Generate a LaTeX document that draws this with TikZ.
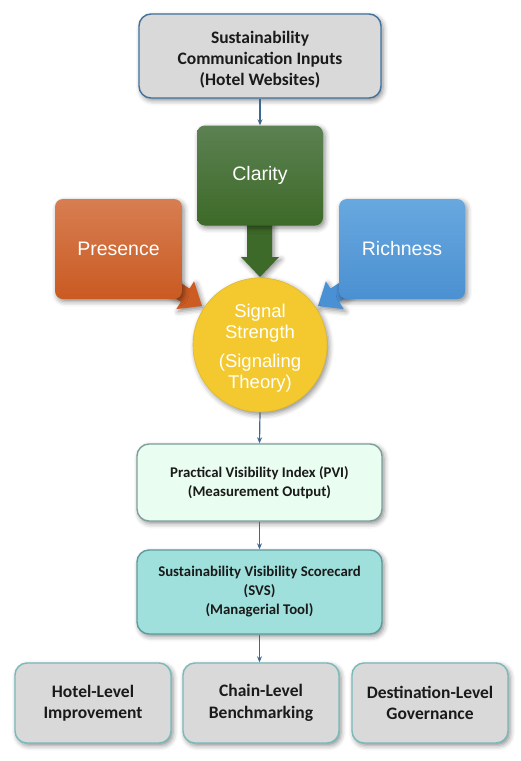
\documentclass[tikz,border=0pt]{standalone}
\usepackage{fontspec}
\setmainfont{Carlito}
\newfontfamily\helv{Liberation Sans}
\usetikzlibrary{shadows.blur,arrows.meta,calc}
\definecolor{bordblue}{HTML}{41719C}
\definecolor{conncol}{HTML}{3F6890}
\definecolor{grayfill}{HTML}{D9D9D9}
\definecolor{mintfill}{HTML}{E9FDF0}
\definecolor{mintbord}{HTML}{7F9F9C}
\definecolor{tealfill}{HTML}{9FE0DC}
\definecolor{tealbord}{HTML}{5E9C9C}
\definecolor{botbord}{HTML}{79B9B9}
\definecolor{greentop}{HTML}{5C8152}
\definecolor{greenbot}{HTML}{3D6A28}
\definecolor{greenarr}{HTML}{3E6A29}
\definecolor{orangetop}{HTML}{D77E51}
\definecolor{orangebot}{HTML}{CA5A22}
\definecolor{orangearr}{HTML}{CD5C24}
\definecolor{bluetop}{HTML}{67A8DF}
\definecolor{bluebot}{HTML}{4B90D1}
\definecolor{bluearr}{HTML}{4A90D5}
\definecolor{yellowfill}{HTML}{F3C92F}
\definecolor{txt}{HTML}{1A1A1A}
\begin{document}
\begin{tikzpicture}[x=1pt,y=-1pt,
  shad/.style={blur shadow={shadow xshift=2pt,shadow yshift=-2.5pt,shadow blur radius=5pt,shadow opacity=45}},
  box/.style={rectangle,rounded corners=12pt,line width=1.4pt,align=center,inner sep=0pt,
    text=txt,font=\bfseries\fontsize{17.5}{21}\selectfont,shad},
  smallbox/.style={box,font=\bfseries\fontsize{14.8}{19}\selectfont},
  botbox/.style={box,fill=grayfill,draw=botbord,minimum width=156pt,minimum height=80pt,
    font=\bfseries\fontsize{17.5}{21.5}\selectfont},
  colbox/.style={rectangle,rounded corners=8pt,draw=none,align=center,inner sep=0pt,
    text=white,font=\helv\fontsize{19.5}{23}\selectfont,shad,
    minimum width=126pt,minimum height=100pt},
  conn/.style={draw=conncol,line width=1.2pt,-{Stealth[length=6pt,width=5pt]}}]
\useasboundingbox (0,0) rectangle (520,761);

% block arrows (drawn first, boxes cover their bases)
\coordinate (ptip) at (202,306);
\coordinate (rtip) at (318,306);
\fill[orangearr,shad] (147.3,280.3) -- (180.9,301.9) -- (176.3,309.1) -- (ptip)
  -- (194.1,281.3) -- (189.5,288.5) -- (155.9,266.9) -- cycle;
\fill[bluearr,shad] (372.7,280.3) -- (339.1,301.9) -- (343.7,309.1) -- (rtip)
  -- (325.9,281.3) -- (330.5,288.5) -- (364.1,266.9) -- cycle;
\fill[greenarr,shad] (247,220) -- (272,220) -- (272,257) -- (279,257) -- (260,277)
  -- (241,257) -- (247,257) -- cycle;

% nodes
\node[box,fill=grayfill,draw=bordblue,minimum width=242pt,minimum height=84pt] (top) at (260,56)
  {\rule{0pt}{19pt}Sustainability\\Communication Inputs\\(Hotel Websites)};
\node[colbox,top color=greentop,bottom color=greenbot] (clarity) at (260,175.5) {Clarity};
\node[colbox,top color=orangetop,bottom color=orangebot,minimum width=127pt] (presence) at (118.5,249) {Presence};
\node[colbox,top color=bluetop,bottom color=bluebot] (richness) at (402,249) {Richness};
\node[circle,fill=yellowfill,draw=yellowfill!92!black,line width=0.6pt,minimum size=134pt,inner sep=0pt,
  align=center,text=white,font=\helv\fontsize{18.5}{21}\selectfont,shad] (signal) at (260,345)
  {\rule{0pt}{20pt}Signal\\Strength\\[8pt](Signaling\\Theory)};
\node[smallbox,fill=mintfill,draw=mintbord,minimum width=245pt,minimum height=77pt] (pvi) at (259.5,482.5)
  {Practical Visibility Index (PVI)\\(Measurement Output)};
\node[smallbox,fill=tealfill,draw=tealbord,minimum width=245pt,minimum height=84pt] (svs) at (259.5,592)
  {Sustainability Visibility Scorecard\\(SVS)\\(Managerial Tool)};
\node[botbox] (hotel) at (93,703) {Hotel-Level\\Improvement};
\node[botbox] (chain) at (261,703) {Chain-Level\\Benchmarking};
\node[botbox] (dest) at (430,703) {Destination-Level\\Governance};

% connectors
\draw[conn] (top.south) -- (clarity.north);
\draw[conn] (signal.south) -- (pvi.north);
\draw[conn] (pvi.south) -- (svs.north);
\draw[conn] (svs.south) -- (svs.south |- chain.north);
\end{tikzpicture}
\end{document}
